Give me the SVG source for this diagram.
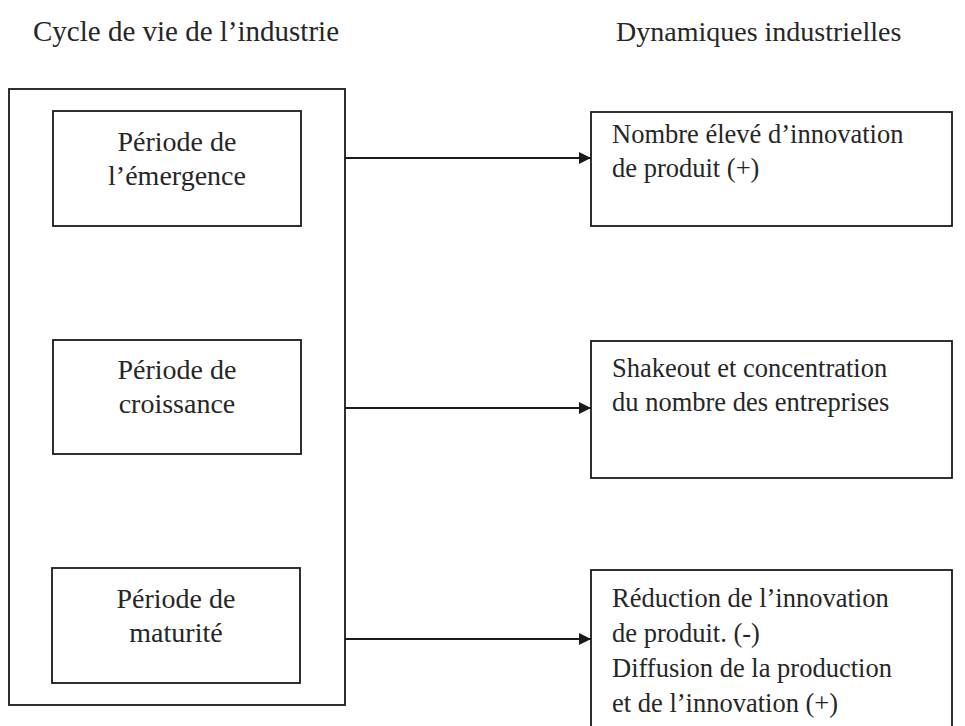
<svg xmlns="http://www.w3.org/2000/svg" width="965" height="726" viewBox="0 0 965 726">
  <style>
    .box { fill: none; stroke: #1a1a1a; stroke-width: 1.8; }
    .t { font-family: "Liberation Serif", "Times New Roman", serif; font-size: 26.5px; fill: #262626; }
    .h { font-size: 29px; }
    .h2 { font-size: 28px; }
    .l { font-size: 28px; }
    .c { text-anchor: middle; }
    .edge { stroke: #1a1a1a; stroke-width: 2; fill: none; }
  </style>
  <defs>
    <marker id="arrow" viewBox="0 0 10 10" refX="10" refY="5" markerWidth="6" markerHeight="6" orient="auto" markerUnits="strokeWidth">
      <path d="M0,0 L10,5 L0,10 z" fill="#1a1a1a"/>
    </marker>
  </defs>
  <rect width="965" height="726" fill="#ffffff"/>

  <!-- column headings -->
  <text class="t h" x="33" y="41">Cycle de vie de l’industrie</text>
  <text class="t h2" x="616" y="41">Dynamiques industrielles</text>

  <!-- life-cycle container -->
  <g id="cycle">
    <rect class="box" x="9" y="89" width="336" height="616"/>
  </g>

  <g id="emergence">
    <rect class="box" x="53" y="111" width="248" height="115"/>
    <text class="t l c" x="177" y="151">Période de</text>
    <text class="t l c" x="177" y="185">l’émergence</text>
  </g>

  <g id="croissance">
    <rect class="box" x="53" y="340" width="248" height="114"/>
    <text class="t l c" x="177" y="379">Période de</text>
    <text class="t l c" x="177" y="413">croissance</text>
  </g>

  <g id="maturite">
    <rect class="box" x="52" y="568" width="248" height="115"/>
    <text class="t l c" x="176" y="608">Période de</text>
    <text class="t l c" x="176" y="642">maturité</text>
  </g>

  <!-- industrial dynamics -->
  <g id="innovation-produit">
    <rect class="box" x="591" y="112" width="361" height="114"/>
    <text class="t" x="612" y="143">Nombre élevé d’innovation</text>
    <text class="t" x="612" y="177">de produit (+)</text>
  </g>

  <g id="shakeout">
    <rect class="box" x="591" y="341" width="361" height="137"/>
    <text class="t" x="612" y="377">Shakeout et concentration</text>
    <text class="t" x="612" y="411">du nombre des entreprises</text>
  </g>

  <g id="reduction">
    <rect class="box" x="591" y="570" width="361" height="170"/>
    <text class="t" x="612" y="607">Réduction de l’innovation</text>
    <text class="t" x="612" y="642">de produit. (-)</text>
    <text class="t" x="612" y="677">Diffusion de la production</text>
    <text class="t" x="612" y="712">et de l’innovation (+)</text>
  </g>

  <!-- connectors -->
  <g id="connectors">
    <line class="edge" x1="345" y1="158" x2="591" y2="158" marker-end="url(#arrow)"/>
    <line class="edge" x1="345" y1="408" x2="591" y2="408" marker-end="url(#arrow)"/>
    <line class="edge" x1="345" y1="639" x2="591" y2="639" marker-end="url(#arrow)"/>
  </g>
</svg>
